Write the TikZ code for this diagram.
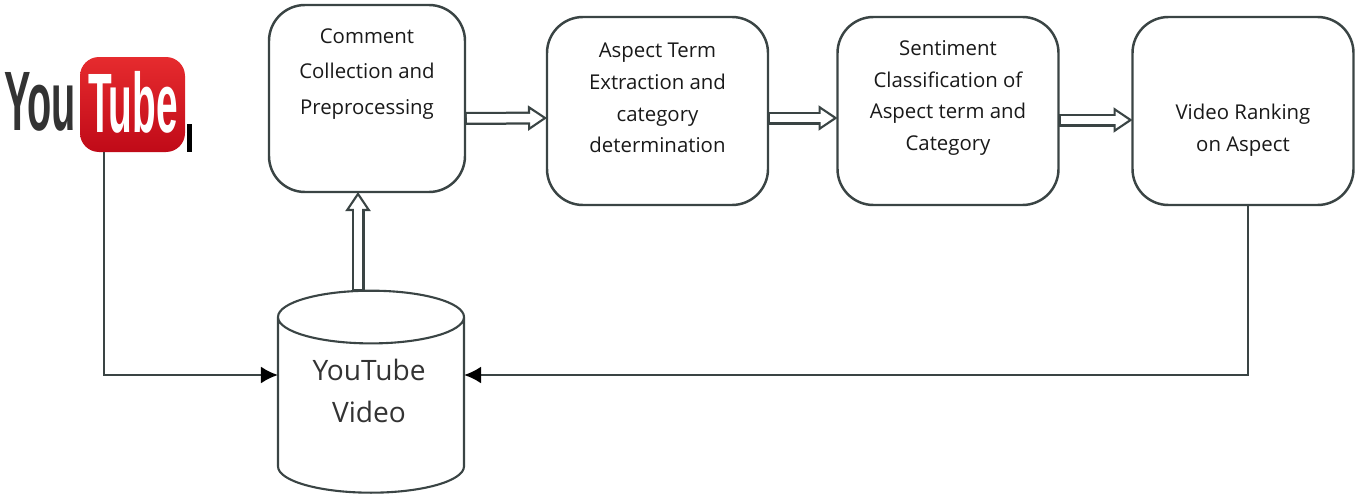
\documentclass[tikz,border=0pt]{standalone}
\usepackage{fontspec}
\setmainfont{Open Sans}
\newfontfamily\logofont{Liberation Sans}
\usetikzlibrary{shapes.geometric,arrows.meta}
\definecolor{logotop}{HTML}{E62B2E}
\definecolor{logobot}{HTML}{C00A18}
\definecolor{edgegray}{HTML}{3A4444}
\tikzset{
  stagebox/.style={draw=edgegray, line width=1.4pt, rounded corners=0.72cm, outer sep=0pt},
  stagetext/.style={font=\fontsize{11.6}{18}\selectfont, text=black!90, align=center},
  hollowflow/.style={draw=edgegray, line width=0.26cm,
    -{Triangle[open, fill=white, length=0.38cm, width=0.5cm, line width=1.2pt]},
    postaction={draw=white, line width=0.17cm, -, shorten <=0.04cm, shorten >=0.30cm}},
  feedflow/.style={draw=edgegray, line width=1.4pt, -{Latex[black, length=0.34cm, width=0.34cm]}}
}
\begin{document}
\begin{tikzpicture}
\useasboundingbox (0,0) rectangle (27.16,9.92);

% Logo
\node[rounded corners=0.38cm, minimum width=2.1cm, minimum height=1.9cm, outer sep=0pt,
  top color=logotop, bottom color=logobot] (logo) at (2.65,7.83) {};
\node[font=\logofont\bfseries\fontsize{48}{48}\selectfont, text=white, xscale=0.46] (tube) at (2.66,7.88) {Tube};
\node[font=\logofont\bfseries\fontsize{48}{48}\selectfont, text=black!80, xscale=0.47] (you) at (0.80,7.88) {You};
\fill[black] (3.74,6.88) rectangle (3.84,7.44);

% Pipeline stages
\node[stagebox, minimum width=3.92cm, minimum height=3.74cm] (collect) at (7.34,7.95) {};
\node[stagebox, minimum width=4.42cm, minimum height=3.76cm] (extract) at (13.15,7.70) {};
\node[stagebox, minimum width=4.42cm, minimum height=3.76cm] (classify) at (18.96,7.70) {};
\node[stagebox, minimum width=4.42cm, minimum height=3.76cm] (rank) at (24.86,7.70) {};

\node[stagetext] (collecttext) at (7.34,8.44) {Comment\\[2pt]Collection and\\[2pt]Preprocessing};
\node[stagetext] (extracttext) at (13.15,7.96) {Aspect Term\\Extraction and\\category\\determination};
\node[stagetext] (classifytext) at (18.96,7.96) {Sentiment\\Classification of\\Aspect term and\\Category};
\node[stagetext] (ranktext) at (24.86,7.32) {Video Ranking\\on Aspect};

% Video store
\node[draw=edgegray, line width=1.2pt, cylinder, shape border rotate=90, aspect=4.5, outer sep=0pt,
  minimum width=3.72cm, minimum height=4.04cm] (video) at (7.42,1.72) {};
\node[font=\fontsize{16}{22}\selectfont, text=black!80, align=center] (videotext) at (7.38,2.10) {YouTube\\[2pt]Video};

% Hollow arrows
\draw[hollowflow] ([yshift=-0.40cm]collect.east) -- ([yshift=-0.14cm]extract.west);
\draw[hollowflow] ([yshift=-0.14cm]extract.east) -- ([yshift=-0.14cm]classify.west);
\draw[hollowflow] ([yshift=-0.18cm]classify.east) -- ([yshift=-0.18cm]rank.west);
\draw[hollowflow] ([xshift=-0.26cm]video.north) -- ([xshift=-0.26cm]video.north |- collect.south);

% Feed lines
\draw[feedflow] ([xshift=-0.57cm]logo.south) |- ([yshift=0.70cm]video.west);
\draw[feedflow] ([xshift=0.10cm]rank.south) |- ([yshift=0.70cm]video.east);
\end{tikzpicture}
\end{document}
